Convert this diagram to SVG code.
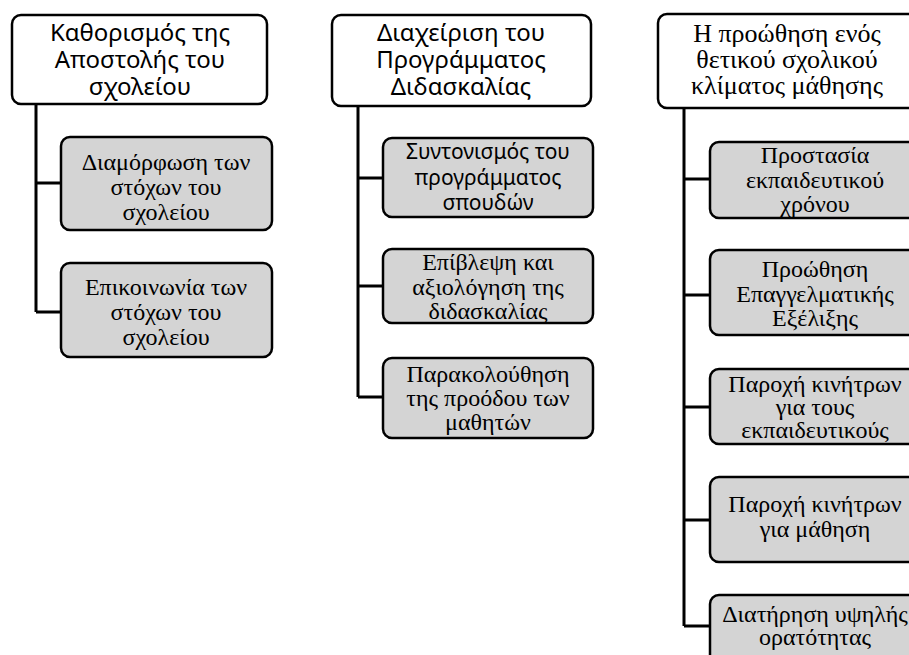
<svg xmlns="http://www.w3.org/2000/svg" width="909" height="655" viewBox="0 0 909 655">
<style>
.hdr{fill:#ffffff;stroke:#000;stroke-width:2.5}
.sub{fill:#d4d4d4;stroke:#000;stroke-width:2.5}
.sans{font-family:"Noto Sans","Open Sans","DejaVu Sans",sans-serif;font-size:24px;fill:#000;text-anchor:middle}
.sans-s{font-family:"Noto Sans","Open Sans","DejaVu Sans",sans-serif;font-size:21px;fill:#000;text-anchor:middle}
.serif{font-family:"Liberation Serif","Times New Roman",serif;font-size:24px;fill:#000;text-anchor:middle}
.serif-l{font-family:"Liberation Serif","Times New Roman",serif;font-size:26px;fill:#000;text-anchor:middle}
.conn{fill:none;stroke:#000;stroke-width:3}
</style>
<rect width="909" height="655" fill="#ffffff"/>
<g id="connectors">
<path class="conn" d="M36 104 V312 M36 183 H61 M36 312 H61"/>
<path class="conn" d="M358 106 V397 M358 178 H383 M358 286 H383 M358 397 H383"/>
<path class="conn" d="M684 108 V626 M684 179 H710 M684 295 H710 M684 407 H710 M684 520 H710 M684 626 H710"/>
</g>
<g id="n1">
<rect class="hdr" x="12" y="15" width="255" height="89" rx="9"/>
<text class="sans"><tspan x="140" y="41">Καθορισμός της</tspan><tspan x="140" y="68">Αποστολής του</tspan><tspan x="140" y="95">σχολείου</tspan></text>
</g>
<g id="n1a">
<rect class="sub" x="61" y="137" width="211" height="93" rx="9"/>
<text class="serif"><tspan x="166" y="170">Διαμόρφωση των</tspan><tspan x="166" y="195">στόχων του</tspan><tspan x="166" y="220">σχολείου</tspan></text>
</g>
<g id="n1b">
<rect class="sub" x="61" y="263" width="211" height="94" rx="9"/>
<text class="serif"><tspan x="166" y="295">Επικοινωνία των</tspan><tspan x="166" y="320">στόχων του</tspan><tspan x="166" y="345">σχολείου</tspan></text>
</g>
<g id="n2">
<rect class="hdr" x="332" y="15" width="259" height="91" rx="9"/>
<text class="sans"><tspan x="461" y="41">Διαχείριση του</tspan><tspan x="461" y="68">Προγράμματος</tspan><tspan x="461" y="95">Διδασκαλίας</tspan></text>
</g>
<g id="n2a">
<rect class="sub" x="383" y="138" width="210" height="79" rx="9"/>
<text class="sans-s"><tspan x="488" y="159">Συντονισμός του</tspan><tspan x="488" y="185">προγράμματος</tspan><tspan x="488" y="210">σπουδών</tspan></text>
</g>
<g id="n2b">
<rect class="sub" x="383" y="249" width="210" height="74" rx="9"/>
<text class="serif"><tspan x="488" y="270">Επίβλεψη και</tspan><tspan x="488" y="295">αξιολόγηση της</tspan><tspan x="488" y="319">διδασκαλίας</tspan></text>
</g>
<g id="n2c">
<rect class="sub" x="383" y="358" width="210" height="80" rx="9"/>
<text class="serif"><tspan x="488" y="382">Παρακολούθηση</tspan><tspan x="488" y="406">της προόδου των</tspan><tspan x="488" y="430">μαθητών</tspan></text>
</g>
<g id="n3">
<rect class="hdr" x="658" y="14" width="260" height="94" rx="9"/>
<text class="serif-l"><tspan x="787" y="42">Η προώθηση ενός</tspan><tspan x="787" y="68">θετικού σχολικού</tspan><tspan x="787" y="94">κλίματος μάθησης</tspan></text>
</g>
<g id="n3a">
<rect class="sub" x="710" y="142" width="210" height="76" rx="9"/>
<text class="serif"><tspan x="815" y="163">Προστασία</tspan><tspan x="815" y="188">εκπαιδευτικού</tspan><tspan x="815" y="212">χρόνου</tspan></text>
</g>
<g id="n3b">
<rect class="sub" x="710" y="250" width="210" height="85" rx="9"/>
<text class="serif"><tspan x="815" y="277">Προώθηση</tspan><tspan x="815" y="302">Επαγγελματικής</tspan><tspan x="815" y="326">Εξέλιξης</tspan></text>
</g>
<g id="n3c">
<rect class="sub" x="710" y="369" width="210" height="75" rx="9"/>
<text class="serif"><tspan x="815" y="392">Παροχή κινήτρων</tspan><tspan x="815" y="415">για τους</tspan><tspan x="815" y="438">εκπαιδευτικούς</tspan></text>
</g>
<g id="n3d">
<rect class="sub" x="710" y="477" width="210" height="85" rx="9"/>
<text class="serif"><tspan x="815" y="512">Παροχή κινήτρων</tspan><tspan x="815" y="537">για μάθηση</tspan></text>
</g>
<g id="n3e">
<rect class="sub" x="710" y="595" width="210" height="80" rx="9"/>
<text class="serif"><tspan x="815" y="622">Διατήρηση υψηλής</tspan><tspan x="815" y="645">ορατότητας</tspan></text>
</g>
</svg>
